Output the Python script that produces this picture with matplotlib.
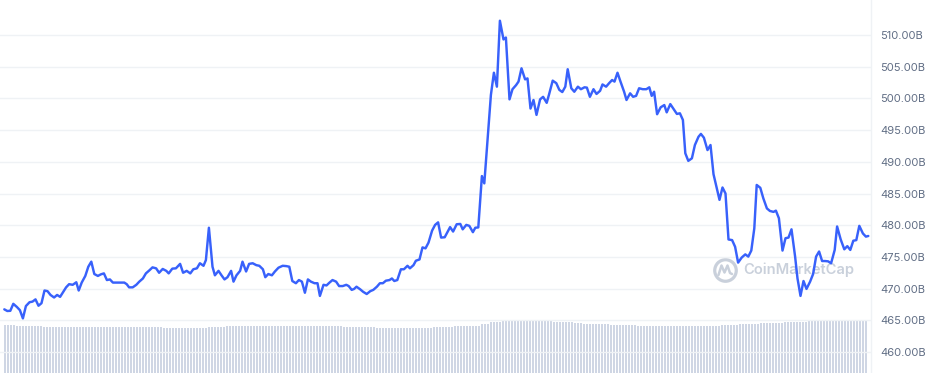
import matplotlib
matplotlib.use("Agg")
import matplotlib.pyplot as plt
import numpy as np

# ---------------- data ----------------
# minutes since start of the 24h window
minutes = [
    0, 5, 10, 15, 21, 26, 31, 36, 42, 47,
    52, 57, 62, 67, 72, 77, 83, 88, 93, 97,
    103, 108, 114, 120, 124, 129, 135, 140, 145, 150,
    156, 161, 166, 171, 176, 181, 187, 194, 200, 204,
    208, 214, 220, 225, 231, 236, 242, 247, 253, 258,
    264, 270, 274, 280, 286, 293, 298, 304, 310, 315,
    321, 326, 332, 336, 341, 347, 351, 357, 362, 367,
    372, 378, 382, 387, 393, 397, 403, 408, 414, 420,
    425, 431, 435, 440, 446, 451, 457, 464, 470, 475,
    480, 486, 491, 496, 501, 506, 511, 517, 522, 526,
    532, 537, 542, 547, 553, 558, 564, 570, 574, 579,
    583, 587, 593, 598, 604, 610, 615, 621, 626, 631,
    636, 642, 646, 650, 655, 661, 666, 672, 676, 682,
    686, 692, 697, 702, 707, 713, 718, 723, 728, 734,
    740, 743, 748, 754, 760, 764, 770, 775, 781, 785,
    790, 796, 800, 811, 816, 821, 826, 832, 836, 842,
    847, 853, 857, 862, 868, 872, 877, 882, 887, 893,
    898, 904, 908, 914, 920, 925, 930, 935, 939, 945,
    950, 956, 961, 967, 971, 976, 982, 987, 993, 997,
    1003, 1008, 1013, 1017, 1022, 1027, 1033, 1037, 1043,
    1048, 1053, 1058, 1064, 1070, 1075, 1079, 1083, 1088, 1094,
    1100, 1104, 1110, 1115, 1121, 1126, 1131, 1135, 1140, 1146,
    1151, 1157, 1161, 1166, 1172, 1177, 1182, 1187, 1192, 1197,
    1202, 1207, 1213, 1218, 1223, 1229, 1235, 1240, 1245, 1250,
    1254, 1260, 1265, 1271, 1276, 1282, 1286, 1291, 1297, 1302,
    1307, 1312, 1318, 1322, 1327, 1332, 1337, 1343, 1348, 1353,
    1358, 1363, 1368, 1373, 1378, 1384, 1388, 1394, 1400, 1405,
    1410, 1415, 1420, 1425, 1431, 1436, 1440,
]

# market cap in billions
market_cap_b = [
    466.73, 466.47, 466.5, 467.6, 467.1, 466.6, 465.3, 467.25, 467.85, 467.95,
    468.3, 467.3, 467.7, 469.7, 469.6, 469.0, 468.6, 469.0, 468.7, 469.3,
    470.2, 470.7, 470.6, 471.0, 469.7, 470.95, 472.0, 473.45, 474.25, 472.3,
    472.0, 472.25, 472.4, 471.35, 471.45, 470.95, 470.95, 470.95, 470.95, 470.7,
    470.2, 470.2, 470.6, 471.1, 471.6, 472.4, 472.9, 473.35, 473.2, 472.5,
    473.1, 472.8, 472.4, 473.15, 473.2, 473.9, 472.5, 472.8, 472.4, 473.05,
    473.2, 474.0, 473.6, 474.5, 479.6, 473.45, 472.1, 472.8, 472.1, 471.45,
    471.8, 472.8, 471.1, 472.1, 472.8, 474.25, 472.7, 473.9, 474.0, 473.7,
    473.6, 473.05, 471.8, 472.3, 472.1, 472.7, 473.3, 473.6, 473.55, 473.45,
    471.2, 470.85, 471.35, 471.1, 469.35, 471.45, 471.1, 470.85, 470.85, 468.85,
    470.6, 470.5, 470.95, 471.35, 471.1, 470.4, 470.4, 470.6, 470.4, 469.8,
    469.95, 470.3, 469.9, 469.5, 469.15, 469.6, 469.8, 470.3, 470.85, 470.85,
    471.25, 471.35, 471.6, 471.2, 471.35, 473.05, 473.05, 473.6, 473.2, 473.7,
    474.4, 474.6, 476.5, 476.35, 477.25, 479.15, 480.05, 480.45, 478.05, 478.1,
    479.15, 479.7, 479.0, 480.15, 480.2, 479.35, 480.05, 479.9, 478.9, 479.6,
    479.65, 487.75, 486.6, 500.55, 504.05, 501.85, 512.25, 509.3, 509.6, 499.85,
    501.45, 502.1, 502.65, 504.75, 503.0, 503.15, 498.4, 499.75, 497.4, 499.85,
    500.25, 499.3, 500.65, 502.8, 502.4, 501.35, 501.0, 501.85, 504.6, 501.6,
    501.05, 501.85, 501.45, 501.75, 501.7, 500.25, 501.45, 500.7, 501.2, 502.2,
    501.85, 502.4, 502.9, 502.65, 504.05, 502.65, 501.05, 499.75, 500.8,
    500.25, 500.4, 501.6, 501.45, 501.45, 501.75, 500.4, 501.05, 497.5, 498.6,
    498.95, 497.8, 499.1, 498.4, 497.55, 497.65, 496.6, 491.35, 490.15, 490.55,
    492.65, 493.95, 494.4, 493.8, 491.85, 492.65, 488.05, 486.05, 484.0, 485.95,
    485.0, 477.75, 477.65, 476.6, 474.1, 474.9, 475.4, 475.05, 476.0, 479.5,
    486.35, 485.9, 484.25, 482.65, 482.25, 482.1, 482.3, 481.1, 476.0, 477.95,
    478.05, 479.35, 475.05, 471.6, 468.85, 471.2, 469.95, 471.1, 472.3, 475.05,
    475.85, 474.35, 474.35, 474.3, 474.0, 476.1, 479.8, 477.75, 476.2, 476.7,
    476.1, 477.55, 477.65, 479.9, 478.7, 478.2, 478.3,
]

# volume bars (5-minute slots): level and number of consecutive bars at that level
vol_levels = [48, 47, 46, 45, 46, 47, 46, 45, 46, 47, 49, 51, 52, 53, 52, 51, 50, 49,
              48, 47, 48, 49, 50, 51, 52, 53]
vol_counts = [4, 9, 40, 15, 6, 39, 11, 19, 7, 9, 3, 4, 4, 10, 3, 7, 3, 9,
              9, 28, 6, 7, 8, 8, 11, 9]

ytick_values = [460, 465, 470, 475, 480, 485, 490, 495, 500, 505, 510]
ytick_labels = ["460.00B", "465.00B", "470.00B", "475.00B", "480.00B", "485.00B",
                "490.00B", "495.00B", "500.00B", "505.00B", "510.00B"]

# ---------------- layout ----------------
W, H = 930, 373
fig = plt.figure(figsize=(W / 100, H / 100), dpi=100)
fig.patch.set_facecolor("white")


def rect(x0, y0, x1, y1):
    return [x0 / W, 1 - y1 / H, (x1 - x0) / W, (y1 - y0) / H]


XLIM = (-7.17, 1444.5)
YLIM = (456.69, 515.52)

# volume axes (behind)
axv = fig.add_axes(rect(0, 318, 871, 373))
vol = np.repeat(vol_levels, vol_counts)
slots = np.arange(len(vol)) * 5
axv.bar(slots - 0.5, vol, width=3.3, align="edge", color="#CFD6E4", linewidth=0)
axv.set_xlim(*XLIM)
axv.set_ylim(0, 55)
axv.axis("off")

# main axes
ax = fig.add_axes(rect(0, 0, 871, 373))
ax.set_facecolor("none")
ax.plot(minutes, market_cap_b, color="#3861FB", lw=1.75, solid_joinstyle="round",
        solid_capstyle="round", zorder=3)
ax.set_xlim(*XLIM)
ax.set_ylim(*YLIM)
ax.set_xticks([])
ax.set_yticks(ytick_values)
ax.set_yticklabels(ytick_labels)
ax.yaxis.tick_right()
ax.tick_params(axis="y", length=0, pad=6.5, labelsize=8.0, labelcolor="#616E85")
for lab in ax.get_yticklabels():
    lab.set_fontfamily(["Inter", "DejaVu Sans"])
ax.grid(axis="y", color="#EFF2F5", lw=1.0, zorder=0)
for s in ("top", "left", "bottom"):
    ax.spines[s].set_visible(False)
ax.spines["right"].set_color("#EFF2F5")
ax.spines["right"].set_linewidth(1.0)


# watermark (layout helpers in pixel space)
def px2t(px):
    return (px - 4.3) / 0.6


def py2p(py):
    return 510 - (py - 35) / 6.34


wm_color = "#C9D0DB"
ax.plot([px2t(724.5)], [py2p(270)], marker="o", ms=15.5, mfc="none", mec=wm_color,
        mew=2.3, zorder=1)
zx = [718.5, 721.5, 724.5, 727.5, 730.0, 732.0]
zy = [275.0, 265.5, 272.5, 265.5, 273.0, 274.0]
ax.plot([px2t(v) for v in zx], [py2p(v) for v in zy], color=wm_color, lw=1.8,
        solid_joinstyle="round", solid_capstyle="round", zorder=1)
ax.text(px2t(743), py2p(270), "CoinMarketCap", fontsize=10.6, fontweight="semibold",
        family=["Inter", "DejaVu Sans"], color=wm_color, va="center", ha="left", zorder=1)

fig.savefig("out.png", dpi=100, facecolor="white")
